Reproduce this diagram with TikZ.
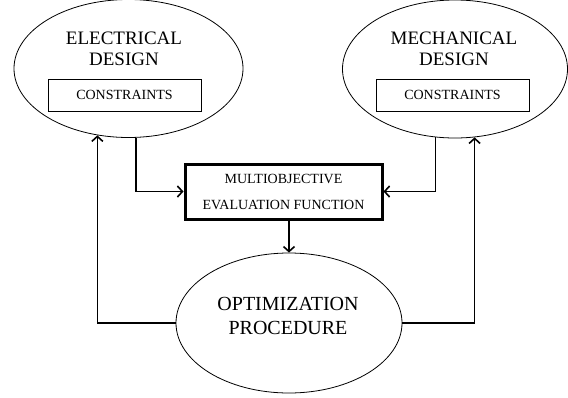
\documentclass[tikz,border=0pt]{standalone}
\usepackage{fontspec}
\setmainfont{Liberation Serif}
\usetikzlibrary{calc,shapes,arrows.meta}

\begin{document}
\begin{tikzpicture}[x=1pt,y=-1pt,
    oval/.style={draw,ellipse,line width=0.8pt,inner sep=0pt},
    cbox/.style={draw,line width=0.8pt,minimum width=153pt,minimum height=32pt,
      font=\fontsize{14}{16}\selectfont},
    title/.style={align=center,font=\fontsize{19}{21}\selectfont},
    conn/.style={-{Straight Barb[length=5pt,width=11pt]},line width=1.6pt}]
        \useasboundingbox (0,0) rectangle (568,397);
        \node[oval,minimum width=229pt,minimum height=138pt] (elec) at (128.5,68.5) {};
        \node[oval,minimum width=225pt,minimum height=138pt] (mech) at (455,69) {};
        \node[oval,minimum width=226pt,minimum height=140pt] (opt) at (289,323) {};
        \node[title] (elect) at (124,48.5) {ELECTRICAL\\DESIGN};
        \node[title] (mecht) at (454,48.5) {MECHANICAL\\DESIGN};
        \node[title,font=\fontsize{20}{24}\selectfont] (optt) at (288,316) {OPTIMIZATION\\PROCEDURE};
        \node[cbox] (elecc) at (124.5,95) {CONSTRAINTS};
        \node[cbox] (mechc) at (452.5,95) {CONSTRAINTS};
        \node[draw,line width=3pt,minimum width=197pt,minimum height=55pt,align=center,
          font=\fontsize{14}{26}\selectfont] (moef) at (283.5,191.5)
          {MULTIOBJECTIVE\\EVALUATION FUNCTION};
        \draw[conn] (elec.-84) |- (moef.west);
        \draw[conn] (mech.-106) |- (moef.east);
        \draw[conn] (moef.south -| opt.north) -- (opt.north);
        \draw[conn] (opt.west) -| (elec.245);
        \draw[conn] (opt.east) -| (mech.-74);
      \end{tikzpicture}
\end{document}
